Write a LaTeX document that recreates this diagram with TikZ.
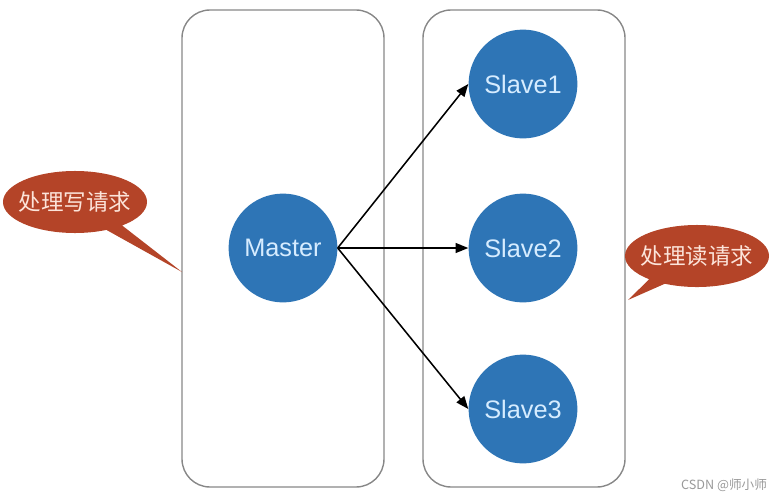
\documentclass[tikz,border=0pt]{standalone}
\usepackage{fontspec}
\usepackage{xcolor}
\usepackage{tikz}
\usetikzlibrary{arrows.meta,shapes.callouts}
\setmainfont{Liberation Sans}
\newfontfamily\cjk{Noto Sans CJK SC}
\definecolor{nodeblue}{RGB}{46,117,182}
\definecolor{nodetext}{RGB}{214,236,255}
\definecolor{callred}{RGB}{180,68,40}
\definecolor{calltext}{RGB}{252,228,218}
\definecolor{boxgray}{RGB}{135,135,135}

\begin{document}
\begin{tikzpicture}[x=0.025cm, y=-0.025cm,
	server/.style={circle, fill=nodeblue, text=nodetext, minimum size=2.72cm, inner sep=0pt, font=\fontsize{18}{20}\selectfont},
	group/.style={draw=boxgray, line width=1pt, rounded corners=0.7cm},
	bubble/.style={ellipse callout, fill=callred, text=calltext, minimum width=3.6cm, minimum height=1.55cm, inner xsep=-4pt, inner ysep=0pt, callout pointer arc=15, font=\cjk\fontsize{16}{18}\selectfont},
	link/.style={-{Triangle[length=9pt,width=7pt]}, line width=1.1pt}]
			\useasboundingbox (0,0) rectangle (784,500);
			% 划分组框
			\draw[group] (182,10) rectangle (384,487);
			\draw[group] (423,10) rectangle (625,487);
			% 定义点
			\coordinate (lefttip) at (182,272);
			\coordinate (righttip) at (628,300);
			% 主从节点
			\node[server] (master) at (283,248) {Master};
			\node[server] (slave1) at (523,84) {Slave1};
			\node[server] (slave2) at (523,248) {Slave2};
			\node[server] (slave3) at (523,409) {Slave3};
			% 划箭头
			\draw[link] (master.east) -- (slave1.west);
			\draw[link] (master.east) -- (slave2.west);
			\draw[link] (master.east) -- (slave3.west);
			% 划气泡
			\node[bubble, callout absolute pointer={(lefttip)}] (write) at (75,202) {处理写请求};
			\node[bubble, callout absolute pointer={(righttip)}] (read) at (697,256) {处理读请求};
			% 水印
			\node[text=gray!80, font=\cjk\fontsize{9}{10}\selectfont, anchor=east] (mark) at (772,485) {CSDN @师小师};
		\end{tikzpicture}
\end{document}
